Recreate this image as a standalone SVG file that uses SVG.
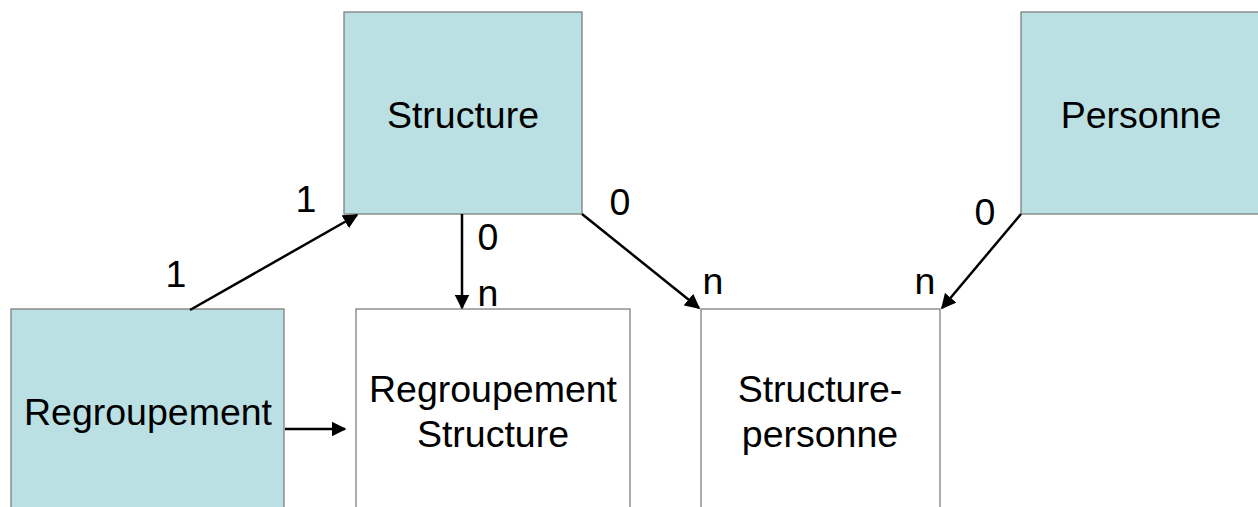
<svg xmlns="http://www.w3.org/2000/svg" width="1258" height="507" viewBox="0 0 1258 507">
<defs>
<style>
.box{stroke:#7f7f7f;stroke-width:1.3}
.ent{fill:#bae0e3}
.tab{fill:#ffffff}
text{font-family:"Liberation Sans",Arial,sans-serif;font-size:37.5px;fill:#000}
.c{text-anchor:middle}
.edge{stroke:#000;stroke-width:2.5;fill:none;marker-end:url(#ah)}
</style>
<marker id="ah" viewBox="0 0 10 10" refX="9" refY="5" markerWidth="6" markerHeight="6" orient="auto" markerUnits="strokeWidth">
<path d="M0,0 L10,5 L0,10 z" fill="#000"/>
</marker>
</defs>
<rect width="1258" height="507" fill="#fff"/>
<g id="structure">
<rect class="box ent" x="344" y="12" width="238" height="202"/>
<text class="c" x="463" y="128">Structure</text>
</g>
<g id="personne">
<rect class="box ent" x="1021" y="12" width="240" height="202"/>
<text class="c" x="1141" y="128">Personne</text>
</g>
<g id="regroupement">
<rect class="box ent" x="11" y="309" width="273" height="210"/>
<text class="c" x="148" y="425">Regroupement</text>
</g>
<g id="regroupement-structure">
<rect class="box tab" x="356" y="309" width="274" height="210"/>
<text class="c" x="493" y="402">Regroupement</text>
<text class="c" x="493" y="447">Structure</text>
</g>
<g id="structure-personne">
<rect class="box tab" x="701" y="309" width="239" height="210"/>
<text class="c" x="820" y="402">Structure-</text>
<text class="c" x="820" y="447">personne</text>
</g>
<g id="connectors">
<line class="edge" x1="190" y1="310" x2="357" y2="215"/>
<line class="edge" x1="462" y1="214" x2="462" y2="308"/>
<line class="edge" x1="582" y1="214" x2="699" y2="308"/>
<line class="edge" x1="1021" y1="214" x2="942" y2="308"/>
<line class="edge" x1="285" y1="429" x2="345" y2="429"/>
<text class="c" x="306" y="212">1</text>
<text class="c" x="176" y="287">1</text>
<text class="c" x="488" y="250">0</text>
<text class="c" x="488" y="306">n</text>
<text class="c" x="620" y="215">0</text>
<text class="c" x="713" y="294">n</text>
<text class="c" x="985" y="225">0</text>
<text class="c" x="925" y="294">n</text>
</g>
</svg>
